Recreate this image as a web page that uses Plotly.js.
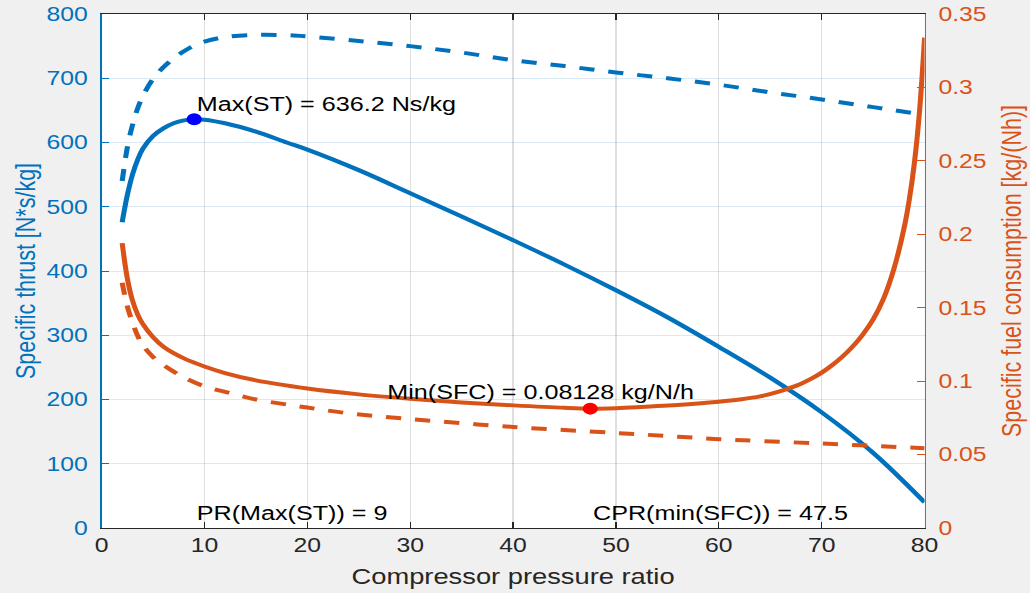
<!DOCTYPE html>
<html>
<head>
<meta charset="utf-8">
<script src="https://cdn.plot.ly/plotly-3.0.1.min.js"></script>
<style>
html, body { margin: 0; padding: 0; background: #f0f0f0; overflow: hidden; width: 1030px; height: 593px; }
#chart { width: 811px; height: 593px; transform: scaleX(1.27004); transform-origin: 0 0; }
</style>
</head>
<body>
<div id="chart"></div>
<script>
// Specific thrust (real cycle), solid blue, left axis
const stX = [2, 2.5, 3, 3.5, 4, 5, 6, 7, 8, 9, 10, 12, 15, 18, 20, 25, 30, 35, 40, 45, 50, 55, 60, 65, 70, 75, 80];
const stY = [476, 518, 550, 573, 590, 610, 622, 630, 634.5, 636.2, 635.5, 630, 617, 600, 589, 557, 521, 485, 448, 410, 370, 328, 282, 234, 180, 117, 40];
// Specific thrust (ideal cycle), dashed blue, left axis
const stIdealX = [2, 2.5, 3, 3.5, 4, 5, 6, 7, 8, 9, 10, 12, 15, 18, 20, 25, 30, 35, 40, 45, 50, 55, 60, 65, 70, 75, 80];
const stIdealY = [540, 592, 627, 653, 672, 699, 717, 731, 742, 751, 757, 764, 767.5, 767, 765, 758, 750, 740, 728, 719, 709, 700, 690, 678, 667, 655, 643];
// Specific fuel consumption (real cycle), solid orange, right axis
const sfcX = [2, 2.5, 3, 3.5, 4, 5, 6, 7, 8, 10, 12, 15, 20, 25, 30, 35, 40, 45, 47.5, 50, 52, 54, 56, 58, 60, 62, 64, 66, 67, 68, 69, 70, 71, 72, 73, 74, 75, 76, 77, 78, 78.5, 79, 79.5, 80];
const sfcY = [0.194, 0.170, 0.155, 0.1455, 0.139, 0.130, 0.1235, 0.119, 0.1155, 0.110, 0.1055, 0.1005, 0.095, 0.091, 0.088, 0.0855, 0.0835, 0.0818, 0.08128, 0.0816, 0.0822, 0.083, 0.0838, 0.0848, 0.086, 0.0875, 0.0896, 0.0932, 0.0956, 0.0983, 0.1017, 0.1058, 0.1108, 0.1166, 0.1235, 0.1318, 0.142, 0.156, 0.176, 0.204, 0.223, 0.248, 0.283, 0.334];
// Specific fuel consumption (ideal cycle), dashed orange, right axis
const sfcIdealX = [2, 2.5, 3, 3.5, 4, 5, 6, 7, 8, 10, 12.4, 15, 18.3, 20, 23.8, 30, 40, 50, 56, 60, 70, 80];
const sfcIdealY = [0.167, 0.151, 0.140, 0.131, 0.1245, 0.1165, 0.111, 0.1065, 0.1025, 0.0965, 0.092, 0.0875, 0.0838, 0.082, 0.0783, 0.0742, 0.0688, 0.0647, 0.0622, 0.0605, 0.0575, 0.0543];
// Optimum points
const maxST = {x: [9], y: [636.2]};
const minSFC = {x: [47.5], y: [0.08128]};
// Labels
const labelMaxST = 'Max(ST) = 636.2 Ns/kg';
const labelMinSFC = 'Min(SFC) = 0.08128 kg/N/h';
const labelPR = 'PR(Max(ST)) = 9';
const labelCPR = 'CPR(min(SFC)) = 47.5';
const xTitle = 'Compressor pressure ratio';
const yTitle = 'Specific thrust [N*s/kg]';
const y2Title = 'Specific fuel consumption [kg/(Nh)]';

const BLUE = '#0072BD';
const ORANGE = '#D95319';
const DARK = '#262626';
const FONT = 'Liberation Sans, Arial, Helvetica, sans-serif';
const LW = 4;
const DASH = '12px,11px';
const SM = 1.0;

const traces = [
  {x: stIdealX, y: stIdealY, mode: 'lines', line: {color: BLUE, width: LW, dash: DASH, shape: 'spline', smoothing: SM}, yaxis: 'y', hoverinfo: 'skip'},
  {x: stX, y: stY, mode: 'lines', line: {color: BLUE, width: LW, shape: 'spline', smoothing: SM}, yaxis: 'y', hoverinfo: 'skip'},
  {x: sfcIdealX, y: sfcIdealY, mode: 'lines', line: {color: ORANGE, width: LW, dash: DASH, shape: 'spline', smoothing: SM}, yaxis: 'y2', hoverinfo: 'skip'},
  {x: sfcX, y: sfcY, mode: 'lines', line: {color: ORANGE, width: LW, shape: 'spline', smoothing: SM}, yaxis: 'y2', hoverinfo: 'skip'},
  {x: maxST.x, y: maxST.y, mode: 'markers', marker: {color: '#0000FF', size: 12}, yaxis: 'y', hoverinfo: 'skip'},
  {x: minSFC.x, y: minSFC.y, mode: 'markers', marker: {color: '#FF0000', size: 12}, yaxis: 'y2', hoverinfo: 'skip'}
];

const annFont = {family: FONT, size: 19.8, color: '#000000'};
const layout = {
  width: 811, height: 593,
  margin: {l: 80, r: 83, t: 14, b: 65, pad: 0},
  paper_bgcolor: '#f0f0f0',
  plot_bgcolor: '#ffffff',
  showlegend: false,
  font: {family: FONT, size: 19.5, color: DARK},
  xaxis: {
    range: [0, 80], dtick: 10, tick0: 0,
    showgrid: true, gridcolor: 'rgba(38,38,38,0.15)', gridwidth: 1,
    zeroline: false,
    showline: true, linecolor: DARK, linewidth: 1, mirror: 'ticks',
    ticks: 'inside', ticklen: 6, tickwidth: 1, tickcolor: DARK,
    tickfont: {family: FONT, size: 19.5, color: DARK},
    title: {text: xTitle, font: {family: FONT, size: 21.5, color: DARK}, standoff: 13},
    automargin: false
  },
  yaxis: {
    range: [0, 800], dtick: 100, tick0: 0,
    showgrid: true, gridcolor: 'rgba(0,114,189,0.15)', gridwidth: 1,
    zeroline: false,
    showline: true, linecolor: BLUE, linewidth: 1,
    ticks: 'inside', ticklen: 6, tickwidth: 1, tickcolor: BLUE,
    tickfont: {family: FONT, size: 19.5, color: BLUE},
    ticklabelstandoff: 6,
    title: {text: yTitle, font: {family: FONT, size: 21.5, color: BLUE}, standoff: 2},
    automargin: false
  },
  yaxis2: {
    overlaying: 'y', side: 'right',
    range: [0, 0.35], dtick: 0.05, tick0: 0,
    showgrid: false, zeroline: false,
    showline: true, linecolor: ORANGE, linewidth: 1,
    ticks: 'inside', ticklen: 6, tickwidth: 1, tickcolor: ORANGE,
    tickfont: {family: FONT, size: 19.5, color: ORANGE},
    ticklabelstandoff: 6,
    title: {text: y2Title, font: {family: FONT, size: 21.5, color: ORANGE}, standoff: 12},
    automargin: false
  },
  annotations: [
    {x: maxST.x[0], y: 660, xref: 'x', yref: 'y', text: labelMaxST, showarrow: false, xanchor: 'left', yanchor: 'middle', font: annFont},
    {x: 27.5, y: 0.0925, xref: 'x', yref: 'y2', text: labelMinSFC, showarrow: false, xanchor: 'left', yanchor: 'middle', font: annFont},
    {x: maxST.x[0], y: 23, xref: 'x', yref: 'y', text: labelPR, showarrow: false, xanchor: 'left', yanchor: 'middle', font: annFont},
    {x: minSFC.x[0], y: 23, xref: 'x', yref: 'y', text: labelCPR, showarrow: false, xanchor: 'left', yanchor: 'middle', font: annFont}
  ]
};

Plotly.newPlot('chart', traces, layout, {staticPlot: true, displayModeBar: false});
</script>
</body>
</html>
